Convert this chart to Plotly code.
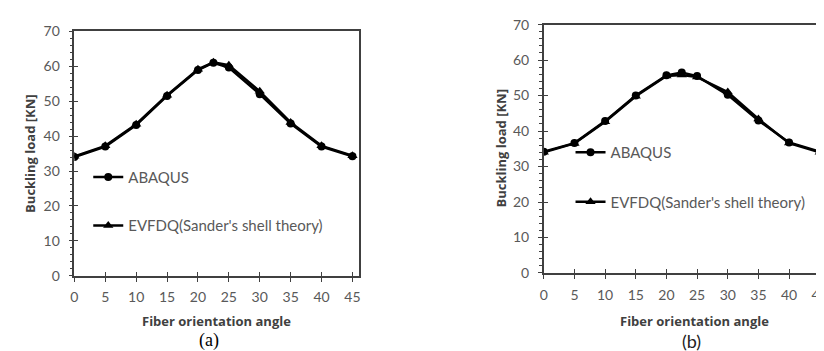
import plotly.graph_objects as go

angles = [0, 5, 10, 15, 20, 22.5, 25, 30, 35, 40, 45]

abaqus_a = [34.0, 37.0, 43.2, 51.5, 58.9, 61.0, 59.6, 52.0, 43.6, 37.0, 34.2]
evfdq_a = [34.2, 37.2, 43.4, 51.7, 59.1, 61.1, 60.3, 52.8, 43.9, 37.2, 34.4]

abaqus_b = [34.2, 36.6, 42.8, 50.0, 55.7, 56.5, 55.5, 50.2, 43.0, 36.8, 34.2]
evfdq_b = [34.0, 36.5, 42.6, 49.8, 55.5, 55.8, 55.2, 51.0, 43.4, 36.6, 34.0]

series_names = ["ABAQUS", "EVFDQ(Sander's shell theory)"]
x_ticks = [0, 5, 10, 15, 20, 25, 30, 35, 40, 45]
y_ticks = [0, 10, 20, 30, 40, 50, 60, 70]

W, H = 824, 351
FONT = "Lato, 'Open Sans', sans-serif"
TFONT = "'Open Sans', Lato, sans-serif"
GRAY = "#595959"
AX = "#404040"

fig = go.Figure()

def px(x):
    return x / W

def py(y):
    return 1 - y / H

panels = [
    dict(xa="x", ya="y", leg="legend", ab=abaqus_a, ev=evfdq_a),
    dict(xa="x2", ya="y2", leg="legend2", ab=abaqus_b, ev=evfdq_b),
]
for p in panels:
    fig.add_trace(go.Scatter(x=angles, y=p["ab"], name=series_names[0], mode="lines+markers",
                             line=dict(color="black", width=2.5),
                             marker=dict(symbol="circle", size=8, color="black"),
                             xaxis=p["xa"], yaxis=p["ya"], legend=p["leg"], legendgroup="g1" + p["leg"]))
    fig.add_trace(go.Scatter(x=angles, y=p["ev"], name=series_names[1], mode="lines+markers",
                             line=dict(color="black", width=2.5),
                             marker=dict(symbol="triangle-up", size=9, color="black"),
                             xaxis=p["xa"], yaxis=p["ya"], legend=p["leg"], legendgroup="g2" + p["leg"]))

# geometry (pixels)
L = dict(x0=63, x1=350, y0=272, y1=15, xr=[0, 46.0])
R = dict(x0=537, x1=820, y0=269, y1=8, xr=[0, 45.7])

def xaxis_cfg(g, ticks="outside", labels=True):
    return dict(domain=[px(g["x0"]), px(g["x1"])], range=g["xr"], tickvals=x_ticks,
                ticks=ticks, ticklen=4, tickwidth=1.3, tickcolor=AX,
                showticklabels=labels, tickfont=dict(family=FONT, size=14, color=GRAY),
                showline=True, linecolor=AX, linewidth=1.5, mirror=True,
                showgrid=False, zeroline=False, ticklabelstandoff=4)

def yaxis_cfg(g, ticks="outside", labels=True, minor=True):
    d = dict(domain=[py(g["y0"]), py(g["y1"])], range=[0, 70], tickvals=y_ticks,
             ticks=ticks, ticklen=4, tickwidth=1.3, tickcolor=AX,
             showticklabels=labels, tickfont=dict(family=FONT, size=14, color=GRAY),
             showline=True, linecolor=AX, linewidth=1.5, mirror=True,
             showgrid=False, zeroline=False, ticklabelstandoff=6)
    if minor:
        d["minor"] = dict(dtick=2, tick0=0, ticks="outside", ticklen=3, tickcolor=AX, tickwidth=1)
    return d

leg_font = dict(family=FONT, size=15, color=GRAY)
fig.update_layout(
    width=W, height=H, margin=dict(l=0, r=0, t=0, b=0),
    paper_bgcolor="white", plot_bgcolor="white",
    xaxis=dict(anchor="y", **xaxis_cfg(L)),
    yaxis=dict(anchor="x", **yaxis_cfg(L)),
    xaxis2=dict(anchor="y2", **xaxis_cfg(R)),
    yaxis2=dict(anchor="x2", **yaxis_cfg(R)),
    # inner halves of the crossing major ticks
    xaxis3=dict(anchor="y3", overlaying="x", **xaxis_cfg(L, ticks="inside", labels=False)),
    yaxis3=dict(anchor="x3", overlaying="y", **yaxis_cfg(L, ticks="inside", labels=False, minor=False)),
    xaxis4=dict(anchor="y4", overlaying="x2", **xaxis_cfg(R, ticks="inside", labels=False)),
    yaxis4=dict(anchor="x4", overlaying="y2", **yaxis_cfg(R, ticks="inside", labels=False, minor=False)),
    legend=dict(x=px(77), y=py(151), xanchor="left", yanchor="top", bgcolor="rgba(0,0,0,0)",
                font=leg_font, tracegroupgap=26, traceorder="grouped"),
    legend2=dict(x=px(564), y=py(125), xanchor="left", yanchor="top", bgcolor="rgba(0,0,0,0)",
                 font=leg_font, tracegroupgap=27, traceorder="grouped"),
    showlegend=True,
)

# invisible helper traces to make overlay axes render
fig.add_trace(go.Scatter(x=[None], y=[None], xaxis="x3", yaxis="y3", showlegend=False, hoverinfo="skip"))
fig.add_trace(go.Scatter(x=[None], y=[None], xaxis="x4", yaxis="y4", showlegend=False, hoverinfo="skip"))

title_font = dict(family=TFONT, size=13, color="#404040")
ann = [
    dict(text="<b>Fiber orientation angle</b>", x=px(207), y=py(319), font=title_font),
    dict(text="<b>Fiber orientation angle</b>", x=px(689), y=py(319), font=title_font),
    dict(text="<b>Buckling load [KN]</b>", x=px(18), y=py(143), font=title_font, textangle=-90),
    dict(text="<b>Buckling load [KN]</b>", x=px(494), y=py(138), font=title_font, textangle=-90),
    dict(text="(a)", x=px(199), y=py(340), font=dict(family="Liberation Serif, serif", size=18, color="black")),
    dict(text="(b)", x=px(686), y=py(340), font=dict(family=FONT, size=18, color="#222222")),
]
for a in ann:
    fig.add_annotation(xref="paper", yref="paper", showarrow=False, xanchor="center", yanchor="middle", **a)

fig.write_html("out.html")
